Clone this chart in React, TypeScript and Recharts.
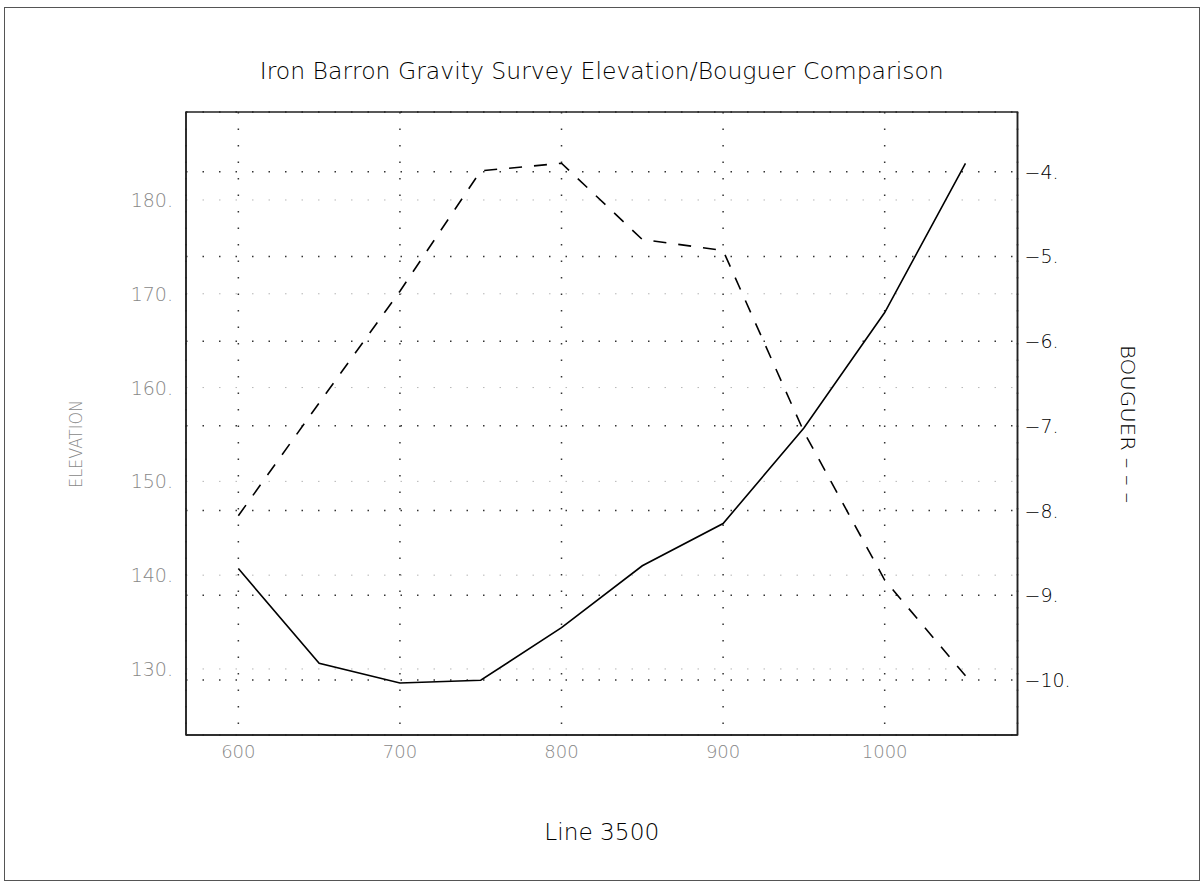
import React from 'react'
import { ComposedChart, Line, XAxis, YAxis, CartesianGrid, Label, ReferenceArea } from 'recharts'

// station positions along Line 3500
const stations = [600, 650, 700, 750, 800, 850, 900, 950, 1000, 1050]
const elevation = [140.7, 130.6, 128.5, 128.8, 134.4, 141.0, 145.5, 155.7, 168.0, 183.9]
const bouguer = [-8.06, -6.73, -5.41, -3.99, -3.9, -4.8, -4.93, -7.07, -8.82, -9.95]

const xTicks = [600, 700, 800, 900, 1000]
const elevTicks = [130, 140, 150, 160, 170, 180]
const bougTicks = [-10, -9, -8, -7, -6, -5, -4]

const xDomain = [567.6, 1082.2]
const elevDomain = [122.96, 189.38]
const bougDomain = [-10.649, -3.295]

const data = stations.map((s, i) => ({ station: s, elevation: elevation[i], bouguer: bouguer[i] }))

const FONT = '"DejaVu Sans", sans-serif'
const WEIGHT = 200
const GRAY = '#888888'

const LeftTick = ({ x, y, payload }: any) => (
  <text x={x - 11} y={y} dy={7} textAnchor="end" fill={GRAY} fontSize={19} fontWeight={WEIGHT} fontFamily={FONT}>
    {payload.value}.
  </text>
)

const RightTick = ({ x, y, payload }: any) => (
  <text x={x + 5} y={y} dy={7} textAnchor="start" fill="#000" fontSize={19} fontWeight={WEIGHT} fontFamily={FONT}>
    {String(payload.value).replace('-', '\u2212')}.
  </text>
)

const BottomTick = ({ x, y, payload }: any) => (
  <text x={x} y={y} dy={21} textAnchor="middle" fill={GRAY} fontSize={18} fontWeight={WEIGHT} fontFamily={FONT}>
    {payload.value}
  </text>
)

export default function App() {
  return (
    <div style={{ position: 'absolute', left: 0, top: 0, width: 1200, height: 886, background: '#fff' }}>
      <div
        style={{
          position: 'absolute',
          left: 4,
          top: 7,
          width: 1194,
          height: 872,
          border: '1px solid #555',
        }}
      />
      <div style={{ position: 'absolute', left: 0, top: 0 }}>
        <ComposedChart
          width={1200}
          height={886}
          data={data}
          margin={{ top: 112, left: 126, right: 122.5, bottom: 121 }}
        >
          <CartesianGrid
            yAxisId="left"
            vertical={false}
            stroke="#b5b5b5"
            strokeWidth={1}
            strokeDasharray="1.5 15"
          />
          <CartesianGrid
            yAxisId="right"
            vertical={false}
            stroke="#333"
            strokeWidth={1.5}
            strokeDasharray="1.5 15"
          />
          <CartesianGrid
            yAxisId="left"
            horizontal={false}
            stroke="#333"
            strokeWidth={1.5}
            strokeDasharray="1.5 15"
          />
          <XAxis
            dataKey="station"
            type="number"
            domain={xDomain}
            ticks={xTicks}
            height={30}
            tickLine={false}
            tickSize={0}
            tick={<BottomTick />}
            axisLine={{ stroke: '#222', strokeWidth: 1.5 }}
            allowDataOverflow
          >
            <Label
              content={({ viewBox }: any) => (
                <text
                  x={viewBox.x + viewBox.width / 2}
                  y={840}
                  textAnchor="middle"
                  fontSize={23}
                  fontWeight={WEIGHT}
                  fontFamily={FONT}
                  fill="#000"
                  textLength={115}
                  lengthAdjust="spacingAndGlyphs"
                >
                  Line 3500
                </text>
              )}
            />
            <Label
              content={({ viewBox }: any) => (
                <text
                  x={viewBox.x + viewBox.width / 2}
                  y={79}
                  textAnchor="middle"
                  fontSize={23}
                  fontWeight={WEIGHT}
                  fontFamily={FONT}
                  fill="#000"
                  textLength={684}
                  lengthAdjust="spacingAndGlyphs"
                >
                  Iron Barron Gravity Survey Elevation/Bouguer Comparison
                </text>
              )}
            />
          </XAxis>
          <YAxis
            yAxisId="left"
            type="number"
            domain={elevDomain}
            ticks={elevTicks}
            width={60}
            tickLine={false}
            tickSize={0}
            tick={<LeftTick />}
            axisLine={{ stroke: '#222', strokeWidth: 1.5 }}
            allowDataOverflow
          >
            <Label
              content={() => (
                <text
                  transform="translate(82, 444) rotate(-90)"
                  textAnchor="middle"
                  fontSize={18}
                  fontWeight={WEIGHT}
                  fontFamily={FONT}
                  fill={GRAY}
                  textLength={88}
                  lengthAdjust="spacingAndGlyphs"
                >
                  ELEVATION
                </text>
              )}
            />
          </YAxis>
          <YAxis
            yAxisId="right"
            orientation="right"
            type="number"
            domain={bougDomain}
            ticks={bougTicks}
            width={60}
            tickLine={false}
            tickSize={0}
            tick={<RightTick />}
            axisLine={{ stroke: '#222', strokeWidth: 1.5 }}
            allowDataOverflow
          >
            <Label
              content={() => (
                <text
                  transform="translate(1121, 424) rotate(90)"
                  textAnchor="middle"
                  fontSize={20}
                  fontWeight={WEIGHT}
                  fontFamily={FONT}
                  fill="#000"
                  textLength={158}
                  lengthAdjust="spacingAndGlyphs"
                >
                  BOUGUER – – –
                </text>
              )}
            />
          </YAxis>
          <ReferenceArea
            yAxisId="left"
            x1={xDomain[0]}
            x2={xDomain[1]}
            y1={elevDomain[0]}
            y2={elevDomain[1]}
            fill="none"
            stroke="#222"
            strokeWidth={1.5}
            ifOverflow="visible"
          />
          <Line
            yAxisId="left"
            dataKey="elevation"
            type="linear"
            stroke="#000"
            strokeWidth={1.6}
            dot={false}
            isAnimationActive={false}
          />
          <Line
            yAxisId="right"
            dataKey="bouguer"
            type="linear"
            stroke="#000"
            strokeWidth={1.6}
            strokeDasharray="13 12"
            dot={false}
            isAnimationActive={false}
          />
        </ComposedChart>
      </div>
    </div>
  )
}
